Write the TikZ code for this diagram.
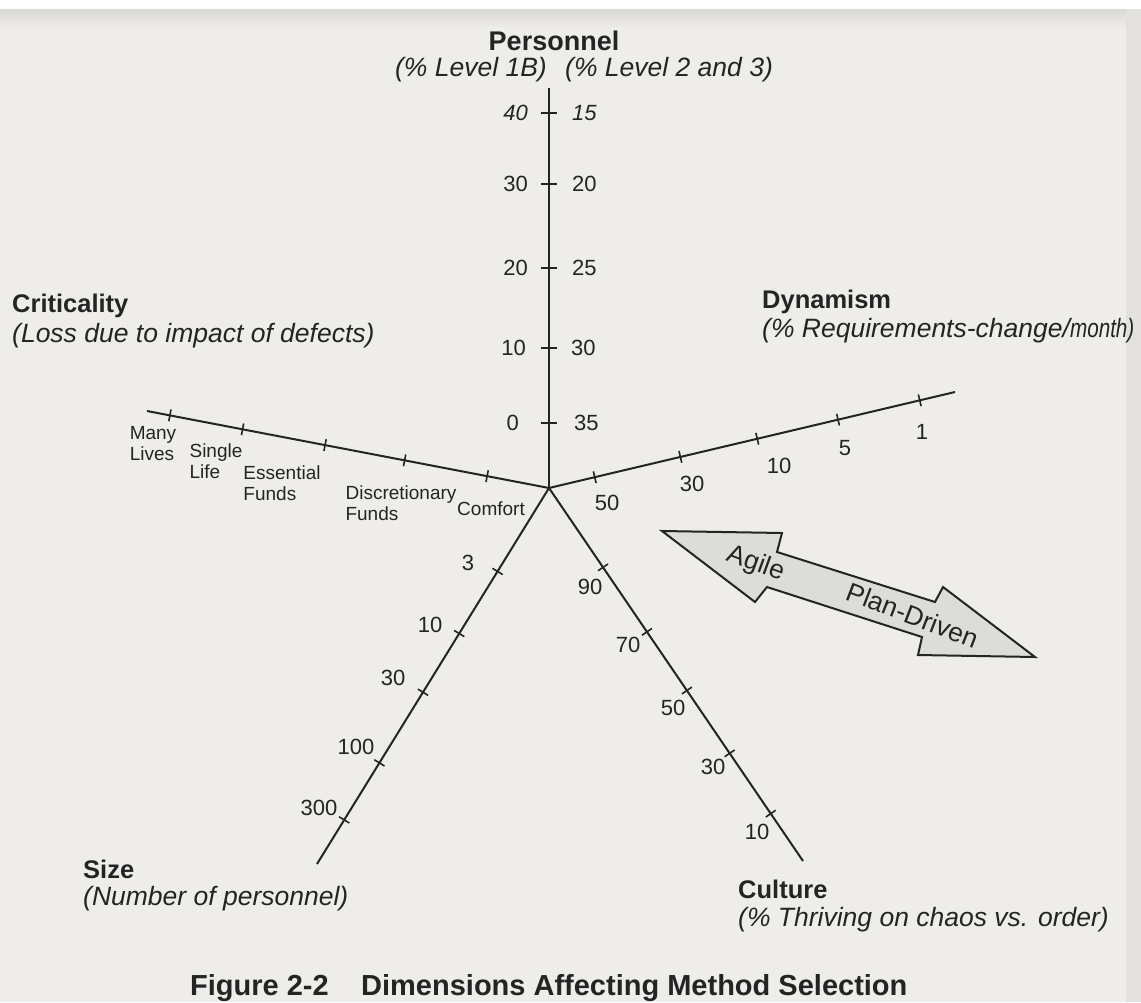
\documentclass[tikz,border=0pt]{standalone}
\usepackage{fontspec}
\setmainfont{Liberation Sans}
\usetikzlibrary{calc}
\definecolor{ink}{HTML}{242424}
\definecolor{paper}{HTML}{EEEDEA}
\definecolor{shade}{HTML}{D9D8D5}
\definecolor{edge}{HTML}{E2E1DE}
\definecolor{arrowfill}{HTML}{DCDCD8}

% a short mark across an axis, #3 away from #1 towards #2
\newcommand\axistick[5]{%
  \coordinate (#4) at ($(#1)!#3!(#2)$);
  \draw[tickmark] ($(#4)!#5!90:(#2)$) -- ($(#4)!#5!-90:(#2)$);
}

\begin{document}
\begin{tikzpicture}[x=1pt,y=-1pt,
  axis/.style={draw=ink, line width=2pt},
  tickmark/.style={draw=ink, line width=1.6pt},
  title/.style={font=\fontsize{25.5}{30}\selectfont\bfseries, text=ink, inner sep=0pt, anchor=base west},
  subtitle/.style={font=\fontsize{26.5}{31}\selectfont\itshape, text=ink, inner sep=0pt, anchor=base west},
  num/.style={font=\fontsize{22}{25}\selectfont, text=ink, inner sep=0pt},
  crit/.style={font=\fontsize{19}{21}\selectfont, text=ink, inner sep=0pt, align=left},
  duo/.style={font=\fontsize{26.5}{30}\selectfont, text=ink, inner sep=0pt},
  caption/.style={font=\fontsize{29}{34}\selectfont\bfseries, text=ink, inner sep=0pt, anchor=base west},
]
% page
\fill[paper] (0,0) rectangle (1141,1002);
\shade[top color=shade, bottom color=paper] (0,9) rectangle (1141,28);
\fill[white] (0,0) rectangle (1141,9);
\fill[edge] (1126,9) rectangle (1141,1002);
\useasboundingbox (0,0) rectangle (1141,1002);

% axes
\coordinate (O)  at (549,488);
\coordinate (P)  at (549,88);
\coordinate (Cr) at (147,411);
\coordinate (Dy) at (955,392);
\coordinate (Sz) at (317,864);
\coordinate (Cu) at (803,861);

\draw[axis] (O) -- (P);
\draw[axis] (O) -- (Cr);
\draw[axis] (O) -- (Dy);
\draw[axis] (O) -- (Sz);
\draw[axis] (O) -- (Cu);

% personnel ticks
\axistick{O}{P}{65pt}{p1}{8pt}
\axistick{O}{P}{140pt}{p2}{8pt}
\axistick{O}{P}{220pt}{p3}{8pt}
\axistick{O}{P}{304pt}{p4}{8pt}
\axistick{O}{P}{375pt}{p5}{8pt}
% criticality ticks
\axistick{O}{Cr}{63pt}{c1}{6pt}
\axistick{O}{Cr}{147pt}{c2}{6pt}
\axistick{O}{Cr}{228pt}{c3}{6pt}
\axistick{O}{Cr}{312pt}{c4}{6pt}
\axistick{O}{Cr}{386pt}{c5}{6pt}
% dynamism ticks
\axistick{O}{Dy}{47pt}{d1}{6pt}
\axistick{O}{Dy}{135pt}{d2}{6pt}
\axistick{O}{Dy}{214pt}{d3}{6pt}
\axistick{O}{Dy}{297pt}{d4}{6pt}
\axistick{O}{Dy}{381pt}{d5}{6pt}
% size ticks
\axistick{O}{Sz}{98pt}{s1}{6pt}
\axistick{O}{Sz}{171pt}{s2}{6pt}
\axistick{O}{Sz}{240pt}{s3}{6pt}
\axistick{O}{Sz}{323pt}{s4}{6pt}
\axistick{O}{Sz}{390pt}{s5}{6pt}
% culture ticks
\axistick{O}{Cu}{96pt}{u1}{6pt}
\axistick{O}{Cu}{174pt}{u2}{6pt}
\axistick{O}{Cu}{245pt}{u3}{6pt}
\axistick{O}{Cu}{321pt}{u4}{6pt}
\axistick{O}{Cu}{394pt}{u5}{6pt}

% personnel scale
\node[num, anchor=east, font=\fontsize{22}{25}\selectfont\itshape] (pl5) at (528,113) {40};
\node[num, anchor=east] (pl4) at (528,184) {30};
\node[num, anchor=east] (pl3) at (528,268) {20};
\node[num, anchor=east] (pl2) at (526,348) {10};
\node[num, anchor=east] (pl1) at (519,423) {0};
\node[num, anchor=west, font=\fontsize{22}{25}\selectfont\itshape] (pr5) at (572,113) {15};
\node[num, anchor=west] (pr4) at (572,184) {20};
\node[num, anchor=west] (pr3) at (572,268) {25};
\node[num, anchor=west] (pr2) at (571,348) {30};
\node[num, anchor=west] (pr1) at (574,423) {35};

% criticality scale
\node[crit] (cl5) at (153,444) {Many\\Lives};
\node[crit] (cl4) at (216,461) {Single\\Life};
\node[crit] (cl3) at (282,483) {Essential\\Funds};
\node[crit] (cl2) at (401,503) {Discretionary\\Funds};
\node[crit] (cl1) at (491,509) {Comfort};

% dynamism scale
\node[num] (dl1) at (607,503) {50};
\node[num] (dl2) at (692,484) {30};
\node[num] (dl3) at (779,466) {10};
\node[num] (dl4) at (845,448) {5};
\node[num] (dl5) at (922,432) {1};

% size scale
\node[num] (sl1) at (468,563) {3};
\node[num] (sl2) at (430,625) {10};
\node[num] (sl3) at (393,678) {30};
\node[num] (sl4) at (356,747) {100};
\node[num] (sl5) at (319,808) {300};

% culture scale
\node[num] (ul1) at (590,587) {90};
\node[num] (ul2) at (628,645) {70};
\node[num] (ul3) at (673,708) {50};
\node[num] (ul4) at (713,767) {30};
\node[num] (ul5) at (757,832) {10};

% axis titles
\node[title, anchor=base, font=\fontsize{27}{32}\selectfont\bfseries] (tP) at (554,50) {Personnel};
\node[subtitle, anchor=base east] (sPa) at (547,76) {(\% Level 1B)};
\node[subtitle] (sPb) at (565,76) {(\% Level 2 and 3)};

\node[title] (tCr) at (12,312) {Criticality};
\node[subtitle] (sCr) at (12,342) {(Loss due to impact of defects)};

\node[title] (tDy) at (762,308) {Dynamism};
\node[subtitle] (sDy) at (762,337) {(\% Requirements-change/\scalebox{0.78}[1]{month)}};

\node[title] (tSz) at (83,878) {Size};
\node[subtitle] (sSz) at (83,905) {(Number of personnel)};

\node[title] (tCu) at (738,898) {Culture};
\node[subtitle] (sCu) at (738,926) {(\% Thriving on chaos vs. order)};

% agile / plan-driven double arrow
\coordinate (aL) at (662,531);
\coordinate (a1) at (782,533);
\coordinate (a2) at (777,552);
\coordinate (a3) at (935,602);
\coordinate (a4) at (943,587);
\coordinate (aR) at (1035,657);
\coordinate (a5) at (918,655);
\coordinate (a6) at (922,637);
\coordinate (a7) at (767,587);
\coordinate (a8) at (755,602);
\draw[fill=arrowfill, draw=ink, line width=2pt, line join=miter]
  (aL) -- (a1) -- (a2) -- (a3) -- (a4) -- (aR) -- (a5) -- (a6) -- (a7) -- (a8) -- cycle;
\node[duo, rotate=-20] (agile) at (756,564) {Agile};
\node[duo, rotate=-21] (plan) at (913,615) {Plan-Driven};

% caption
\node[caption] (fig) at (190,995) {Figure 2-2};
\node[caption] (cap) at (361,995) {Dimensions Affecting Method Selection};
\end{tikzpicture}
\end{document}
